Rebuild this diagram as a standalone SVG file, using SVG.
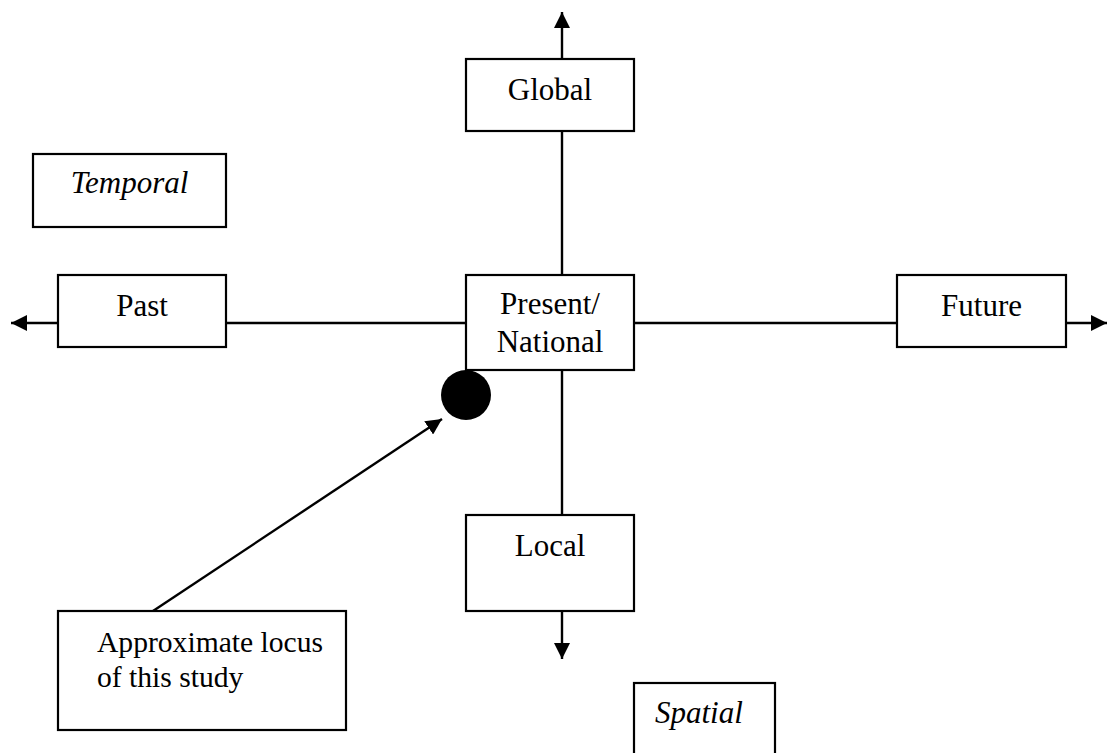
<svg xmlns="http://www.w3.org/2000/svg" width="1107" height="753" viewBox="0 0 1107 753">
  <style>
    .box { fill: #fff; stroke: #000; stroke-width: 2.2; }
    .lbl { font-family: "Liberation Serif", "Times New Roman", serif; font-size: 31px; fill: #000; }
    .note { font-size: 29.6px; }
    .mid { text-anchor: middle; }
    .it { font-style: italic; }
    .axis { stroke: #000; stroke-width: 2.4; fill: none; }
  </style>
  <defs>
    <marker id="arrow" viewBox="0 0 16 16" refX="16" refY="8" markerWidth="16" markerHeight="16" markerUnits="userSpaceOnUse" orient="auto">
      <path d="M0,0 L16,8 L0,16 Z" fill="#000"/>
    </marker>
  </defs>

  <rect width="1107" height="753" fill="#fff"/>

  <!-- axes and pointer -->
  <g id="connectors">
    <line class="axis" x1="562" y1="59" x2="562" y2="12" marker-end="url(#arrow)"/>
    <line class="axis" x1="562" y1="131" x2="562" y2="275"/>
    <line class="axis" x1="562" y1="370" x2="562" y2="515"/>
    <line class="axis" x1="562" y1="611" x2="562" y2="659" marker-end="url(#arrow)"/>
    <line class="axis" x1="58" y1="323" x2="11" y2="323" marker-end="url(#arrow)"/>
    <line class="axis" x1="226" y1="323" x2="466" y2="323"/>
    <line class="axis" x1="634" y1="323" x2="897" y2="323"/>
    <line class="axis" x1="1066" y1="323" x2="1107" y2="323" marker-end="url(#arrow)"/>
    <line class="axis" x1="153" y1="611" x2="442" y2="419" marker-end="url(#arrow)"/>
  </g>

  <g id="temporal">
    <rect class="box" x="33" y="154" width="193" height="73"/>
    <text class="lbl it mid" x="129.5" y="193">Temporal</text>
  </g>

  <g id="global">
    <rect class="box" x="466" y="59" width="168" height="72"/>
    <text class="lbl mid" x="550" y="100">Global</text>
  </g>

  <g id="past">
    <rect class="box" x="58" y="275" width="168" height="72"/>
    <text class="lbl mid" x="142" y="316">Past</text>
  </g>

  <g id="present">
    <rect class="box" x="466" y="275" width="168" height="95"/>
    <text class="lbl mid" x="550" y="314">Present/</text>
    <text class="lbl mid" x="550" y="352">National</text>
  </g>

  <g id="future">
    <rect class="box" x="897" y="275" width="169" height="72"/>
    <text class="lbl mid" x="981.5" y="316">Future</text>
  </g>

  <g id="locus-dot">
    <circle cx="466" cy="395" r="25" fill="#000"/>
  </g>

  <g id="local">
    <rect class="box" x="466" y="515" width="168" height="96"/>
    <text class="lbl mid" x="550" y="556">Local</text>
  </g>

  <g id="study-note">
    <rect class="box" x="58" y="611" width="288" height="119"/>
    <text class="lbl note" x="97" y="652">Approximate locus</text>
    <text class="lbl note" x="97" y="687">of this study</text>
  </g>

  <g id="spatial">
    <rect class="box" x="634" y="683" width="141" height="80"/>
    <text class="lbl it" x="655" y="723">Spatial</text>
  </g>
</svg>
